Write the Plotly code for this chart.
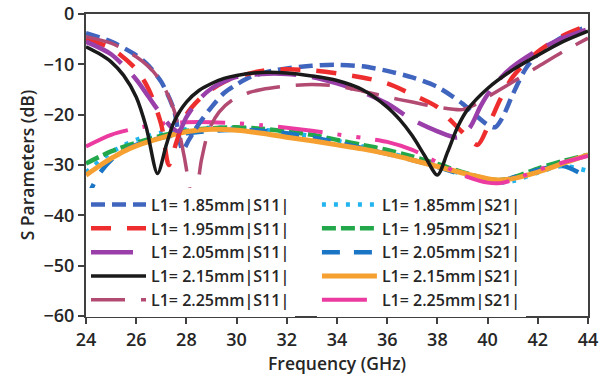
import plotly.graph_objects as go

# ---------------- data ----------------
f_s11_185 = [24, 25, 26, 26.5, 27, 27.5, 27.85, 28.1, 28.5, 29, 29.5, 30, 30.6, 31.5, 32, 33, 34, 35, 36, 37, 38, 39, 39.5, 40, 40.3, 40.6, 41, 41.5, 42, 43, 44]
s11_185 = [-3.8, -5.5, -8.2, -10.3, -13.5, -19, -27, -25, -21.8, -18.5, -15.7, -14, -12.4, -11.2, -10.8, -10.3, -10.1, -10.4, -11.3, -12.6, -14.5, -17.8, -20, -22, -22.5, -20.5, -16, -11, -8, -4.5, -2.5]

f_s11_195 = [24, 25, 26, 26.5, 27, 27.3, 27.6, 28, 28.5, 29, 29.5, 30, 31, 32, 33, 34, 35, 36, 37, 38, 38.5, 39, 39.6, 40, 40.5, 41, 42, 43, 44]
s11_195 = [-5, -6.8, -11, -15, -22, -30, -25.5, -20, -17, -15, -13.5, -12.5, -11.3, -11, -11.2, -11.8, -12.6, -13.8, -16, -18.5, -21, -23.5, -26, -22.5, -17, -12.5, -7.5, -4.3, -2.2]

f_s11_205 = [24, 25, 26, 26.5, 27, 27.4, 27.7, 28, 28.5, 29, 29.7, 30, 31, 32, 33, 34, 35, 36, 37, 38, 38.8, 39.3, 39.7, 40, 40.5, 41, 42, 43, 44]
s11_205 = [-5.5, -8, -13, -16.5, -20, -22.5, -23.3, -20.5, -17, -14.8, -13, -12.5, -11.9, -11.9, -12.5, -13.8, -15.5, -17.8, -21, -23.3, -24.5, -22.5, -18.5, -16, -12.8, -10.5, -7.2, -4.8, -3]

f_s11_215 = [24, 24.5, 25, 25.5, 26, 26.4, 26.85, 27.2, 27.5, 28, 28.5, 29, 29.5, 30, 31, 32, 33, 34, 35, 36, 36.5, 37, 37.5, 38, 38.4, 38.8, 39.2, 40, 41, 42, 43, 44]
s11_215 = [-6.5, -7.8, -9.5, -12.2, -16.5, -22.5, -31.7, -26, -21.5, -17.5, -15.2, -13.8, -12.8, -12.2, -11.6, -11.7, -12.3, -13.2, -15, -18.5, -21, -24.2, -28.2, -32, -27.5, -22.5, -19, -14.8, -11.1, -8.2, -5.5, -3.4]

f_s11_225 = [24, 25, 26, 26.5, 27, 27.5, 27.9, 28.3, 28.6, 28.9, 29.3, 29.8, 30.5, 31, 32, 33, 34, 35, 36, 37, 38, 39, 39.5, 40, 40.5, 41, 42, 43, 44]
s11_225 = [-4.5, -5.8, -8.5, -10.5, -13.5, -19, -28, -38, -29, -23, -19.5, -17.2, -15.6, -15, -14.3, -14, -14.3, -15.3, -16.5, -17.5, -18.5, -19, -18, -16.5, -15, -13.5, -10.5, -7.5, -4.8]

f_s21_a = [24, 25, 26, 27, 28, 29, 30, 31, 32, 33, 34, 35, 36, 37, 38, 39, 40, 40.5, 41, 42, 43, 44]
s21_185 = [-31.5, -27.5, -25, -23.6, -22.9, -22.6, -22.7, -23, -23.5, -24.3, -25.2, -26.3, -27.5, -28.8, -30.3, -31.8, -33.2, -33.5, -33.2, -31.5, -30.2, -31.2]
s21_195 = [-29.7, -27.3, -25.6, -24.2, -23.2, -22.7, -22.5, -22.8, -23.3, -24, -25, -26, -27, -28.3, -29.8, -31.4, -32.8, -33, -32.5, -30.7, -29.2, -28]
s21_225 = [-26.3, -24, -22.7, -21.8, -21.5, -21.5, -21.7, -22.1, -22.6, -23.2, -23.9, -24.6, -25.4, -27, -29.5, -32, -33.5, -33.6, -33, -31, -29.5, -28.2]

f_s21_b = [24, 24.5, 25, 25.5, 26, 27, 28, 29, 30, 31, 32, 33, 34, 35, 36, 37, 38, 39, 40, 40.5, 41, 42, 43, 44]
s21_205 = [-37, -32, -29, -27.3, -26, -24.6, -23.7, -23.2, -23, -23.2, -23.7, -24.5, -25.5, -26.6, -27.8, -29, -30.4, -31.9, -33, -33.2, -32.5, -31, -30.2, -32.5]
s21_215 = [-32, -30.3, -28.7, -27.3, -26.2, -24.6, -23.4, -22.9, -23.1, -23.7, -24.5, -25.2, -26, -26.8, -27.8, -29, -30.3, -31.6, -32.7, -33, -32.7, -31.4, -29.7, -28]

x_ticks = [24, 26, 28, 30, 32, 34, 36, 38, 40, 42, 44]
y_ticks = [0, -10, -20, -30, -40, -50, -60]

x_title = "Frequency (GHz)"
y_title = "S Parameters (dB)"

FONT = "Open Sans"
TXT = "#262626"
W = 600

# (name, x, y, color, width, dash, legend, rank)
s21_specs = [
    ("L1= 1.85mm|S21|", f_s21_a, s21_185, "#22B4EE", 4.5, "4px,8px", "legend2", 1),
    ("L1= 1.95mm|S21|", f_s21_a, s21_195, "#22A84A", 4.5, "14px,5px", "legend2", 2),
    ("L1= 2.05mm|S21|", f_s21_b, s21_205, "#1B75C5", 4.5, "18px,14px", "legend2", 3),
    ("L1= 2.15mm|S21|", f_s21_b, s21_215, "#F5A030", 5, "solid", "legend2", 4),
    ("L1= 2.25mm|S21|", f_s21_a, s21_225, "#EC3BA0", 4, "45px,15px,4px,15px,4px,15px", "legend2", 5),
]
s11_specs = [
    ("L1= 1.85mm|S11|", f_s11_185, s11_185, "#4065BF", 4.5, "14px,7px", "legend", 1),
    ("L1= 1.95mm|S11|", f_s11_195, s11_195, "#EE2E2E", 4.5, "20px,16px", "legend", 2),
    ("L1= 2.05mm|S11|", f_s11_205, s11_205, "#9A3FA9", 4.5, "42px,16px", "legend", 3),
    ("L1= 2.25mm|S11|", f_s11_225, s11_225, "#B24A72", 3.5, "34px,16px", "legend", 5),
    ("L1= 2.15mm|S11|", f_s11_215, s11_215, "#1A1A1A", 3.5, "solid", "legend", 4),
]

fig = go.Figure()
for name, xs, ys, col, w, dash, lg, rank in s21_specs + s11_specs:
    fig.add_trace(go.Scatter(
        x=xs, y=ys, mode="lines", name=name,
        line=dict(color=col, width=w, dash=dash, shape="spline", smoothing=0.8),
        legend=lg, legendrank=rank,
    ))

axis_common = dict(
    showline=True, linecolor="#404040", linewidth=2, mirror=True,
    ticks="outside", ticklen=6, tickwidth=2, tickcolor="#404040",
    showgrid=False, zeroline=False,
    tickfont=dict(family=FONT, size=18, color=TXT, weight=W),
)

legend_common = dict(
    y=0.425, xanchor="left", yanchor="top", bgcolor="white",
    font=dict(family=FONT, size=16, color=TXT, weight=W), itemwidth=55, tracegroupgap=0,
    traceorder="normal",
)

fig.update_layout(
    width=599, height=377,
    margin=dict(l=86, r=11, t=14, b=61, autoexpand=False),
    paper_bgcolor="white", plot_bgcolor="white",
    font=dict(family=FONT, color=TXT),
    xaxis=dict(range=[24, 44], tickvals=x_ticks, **axis_common),
    yaxis=dict(range=[-60, 0], tickvals=y_ticks,
               title=dict(text=y_title, font=dict(family=FONT, size=17.5, color=TXT, weight=W), standoff=4),
               **axis_common),
    legend=dict(x=0.0, **legend_common),
    legend2=dict(x=0.46, **legend_common),
    annotations=[dict(text=x_title, xref="paper", yref="paper", x=0.5, y=-0.155,
                      xanchor="center", yanchor="middle", showarrow=False,
                      font=dict(family=FONT, size=17.5, color=TXT, weight=W))],
)

fig.write_html("out.html")
